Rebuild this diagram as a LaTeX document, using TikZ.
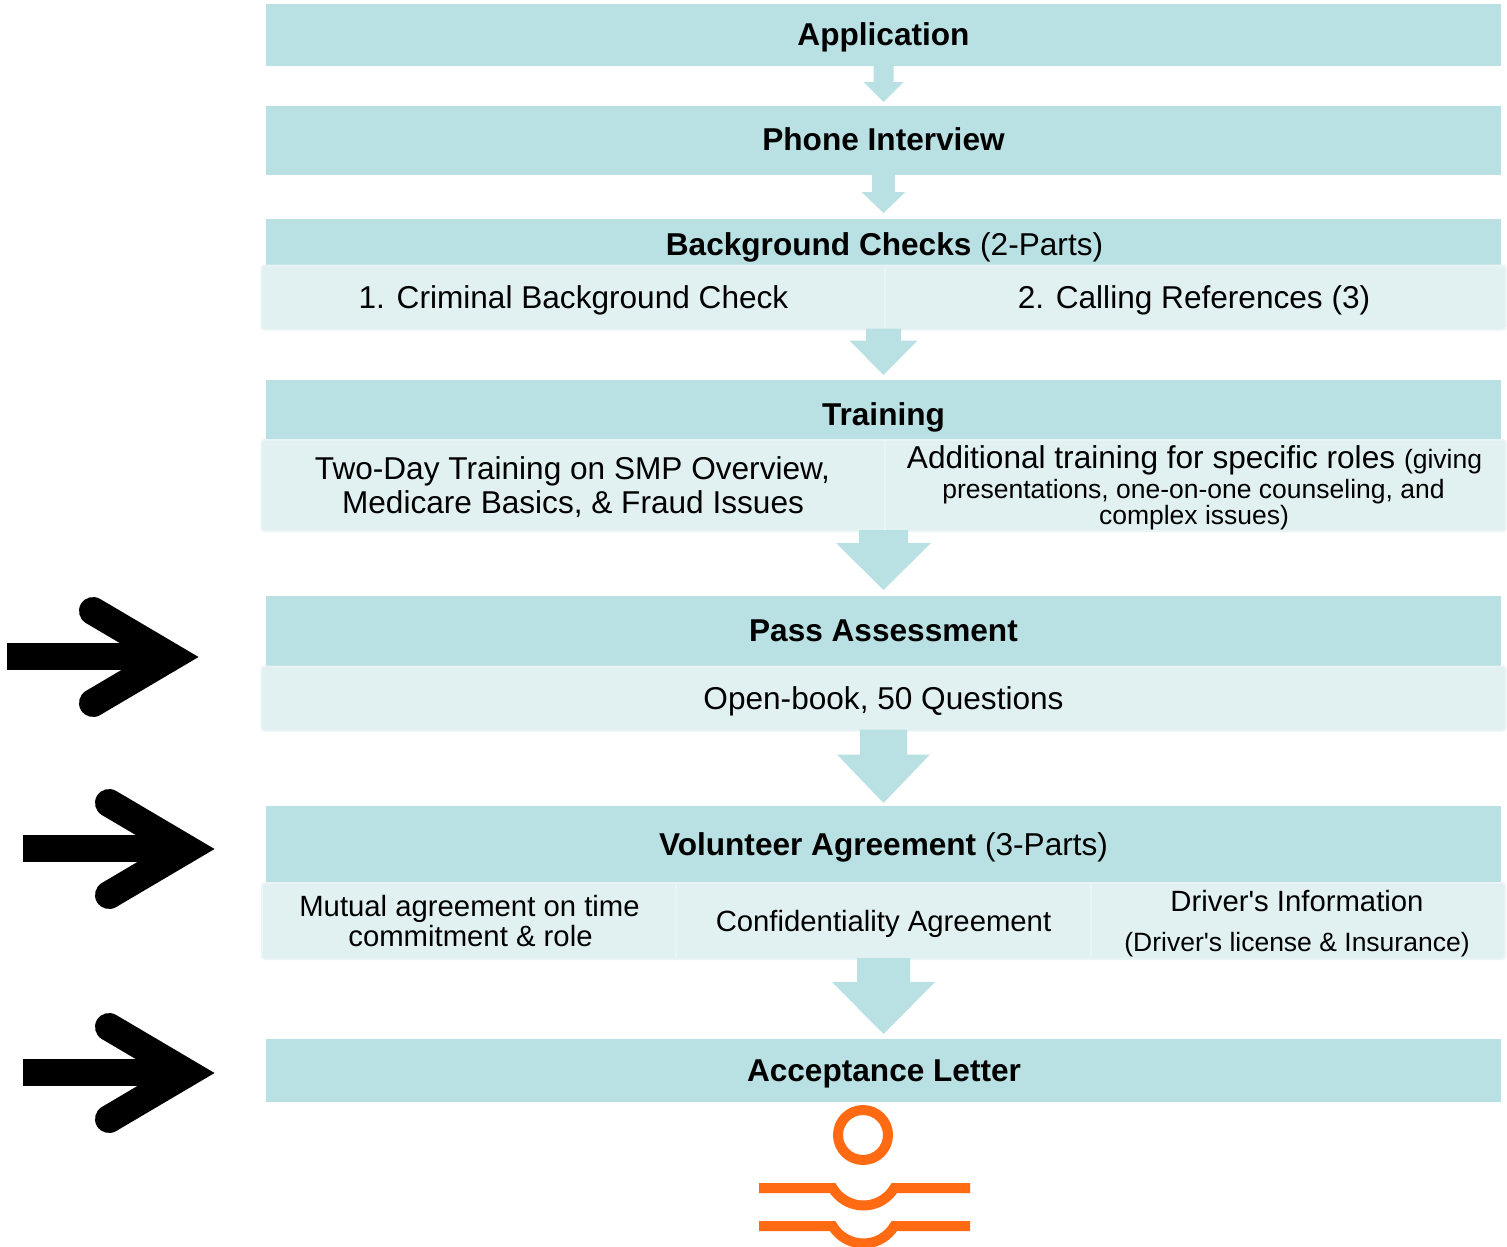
\documentclass[tikz,border=0pt]{standalone}
\usepackage{fontspec}
\setmainfont{Liberation Sans}
\newfontfamily\plainfam{Liberation Sans}
\usetikzlibrary{calc}
\definecolor{barcol}{HTML}{B9E0E3}
\definecolor{cellcol}{HTML}{E1F0F1}
\definecolor{celledge}{HTML}{E8F4F5}
\definecolor{logocol}{HTML}{FF6A13}
\newcommand{\fs}[1]{\fontsize{#1}{#1}\selectfont}
\newcommand{\apos}{{\plainfam'}}
\tikzset{
  x=1pt,y=-1pt,
  barbox/.style={rectangle,fill=barcol,minimum width=1235pt,inner sep=0pt,outer sep=0pt},
  cellbox/.style={rectangle,fill=cellcol,draw=celledge,line width=2pt,rounded corners=3pt,inner sep=0pt,outer sep=0pt},
  divider/.style={celledge,line width=1.5pt},
  txt/.style={anchor=base,inner sep=0pt,outer sep=0pt,font=\fs{31.6},text=black,align=center},
  small/.style={txt,font=\fs{26.5}},
  mid/.style={txt,font=\fs{29.3}},
  head/.style={txt,font=\fs{31.6}\bfseries},
  logo/.style={logocol,line width=10pt},
  pics/bigarrow/.style={code={
    \fill (-192,-14) rectangle (-40,13);
    \draw[black,line width=28pt,line cap=round,line join=miter] (-106,-46) -- (-28,0) -- (-106,46);
  }}
}
% from, to, shaft half width, head half width, shaft length, gap above target
\newcommand{\blockarrow}[6]{%
  \path[fill=barcol] ($(#1.south)+(-#3,-1)$) -- ++(0,#5+1) -- ++(#3-#4,0) -- ($(#2.north)+(0,-#6)$) -- ($(#1.south)+(#4,#5)$) -- ++(#3-#4,0) -- ($(#1.south)+(#3,-1)$) -- cycle;
  \draw[white,line width=1.5pt,line join=round] ($(#2.north)+(0,-#6+.5)$) -- ($(#2.north)+(0,-#6+2)$);
}
\begin{document}
\begin{tikzpicture}
\useasboundingbox (0,0) rectangle (1507,1247);
% bars
\node[barbox,minimum height=62pt] (app) at (883.5,35) {};
\node[barbox,minimum height=69pt] (phone) at (883.5,140.5) {};
\node[barbox,minimum height=50pt] (bg) at (883.5,244) {};
\node[barbox,minimum height=62pt] (train) at (883.5,411) {};
\node[barbox,minimum height=72pt] (pass) at (883.5,632) {};
\node[barbox,minimum height=78pt] (vol) at (883.5,845) {};
\node[barbox,minimum height=63pt] (acc) at (883.5,1070.5) {};
% cell boxes
\node[cellbox,minimum width=1244pt,minimum height=64pt] (bgcell) at (883.5,297.5) {};
\node[cellbox,minimum width=1244pt,minimum height=91pt] (traincell) at (883.5,485.5) {};
\node[cellbox,minimum width=1244pt,minimum height=64pt] (passcell) at (883.5,698.5) {};
\node[cellbox,minimum width=1243pt,minimum height=76pt] (volcell) at (883.5,921) {};
\draw[divider] (bgcell.north -| 885,0) -- (bgcell.south -| 885,0);
\draw[divider] (traincell.north -| 885,0) -- (traincell.south -| 885,0);
\draw[divider] (volcell.north -| 676,0) -- (volcell.south -| 676,0);
\draw[divider] (volcell.north -| 1091,0) -- (volcell.south -| 1091,0);
% flow arrows
\blockarrow{app}{phone}{10}{20}{16}{4}
\blockarrow{phone}{bg}{11.5}{22}{17}{6}
\blockarrow{bgcell}{train}{17.5}{34}{11}{5}
\blockarrow{traincell}{pass}{24.5}{47.5}{12}{6}
\blockarrow{passcell}{vol}{23.5}{46.5}{24}{3}
\blockarrow{volcell}{acc}{26.5}{51.5}{23}{5}
% texts
\node[head] (t1) at (883.5,45.5) {Application};
\node[head] (t2) at (883.5,150) {Phone Interview};
\node[txt] (t3) at (884.5,255) {\textbf{Background Checks} (2-Parts)};
\node[txt] (t4) at (573.5,308) {1. Criminal Background Check};
\node[txt] (t5) at (1194,308) {2. Calling References (3)};
\node[head] (t6) at (883.5,425) {Training};
\node[txt] (t7) at (572.5,479) {Two-Day Training on SMP Overview,};
\node[txt] (t8) at (573,513) {Medicare Basics, \& Fraud Issues};
\node[txt] (t9) at (1194.5,468) {Additional training for specific roles \fs{26.5}(giving};
\node[small] (t10) at (1193.5,498) {presentations, one-on-one counseling, and};
\node[small] (t11) at (1194,524) {complex issues)};
\node[head] (t12) at (883.5,641) {Pass Assessment};
\node[txt] (t13) at (883.5,709) {Open-book, 50 Questions};
\node[txt] (t14) at (883.5,855) {\textbf{Volunteer Agreement} (3-Parts)};
\node[mid] (t15) at (469.5,916) {Mutual agreement on time};
\node[mid] (t16) at (470.5,946) {commitment \& role};
\node[mid] (t17) at (883.5,931) {Confidentiality Agreement};
\node[mid] (t18) at (1297,911) {Driver\apos s Information};
\node[small] (t19) at (1297,951) {(Driver\apos s license \& Insurance)};
\node[head] (t20) at (884,1081) {Acceptance Letter};
% side arrows
\pic at (199,657) {bigarrow};
\pic at (215,849) {bigarrow};
\pic at (215,1073) {bigarrow};
% logo
\draw[logo] (863,1135) circle[radius=25];
\begin{scope}
\clip (740,1090) rectangle (990,1247);
\draw[logo] (759,1188) -- (832.6,1188) arc[start angle=149,end angle=31,radius=36] -- (970,1188);
\draw[logo] (759,1226) -- (832.6,1226) arc[start angle=149,end angle=31,radius=36] -- (970,1226);
\end{scope}
\end{tikzpicture}
\end{document}
